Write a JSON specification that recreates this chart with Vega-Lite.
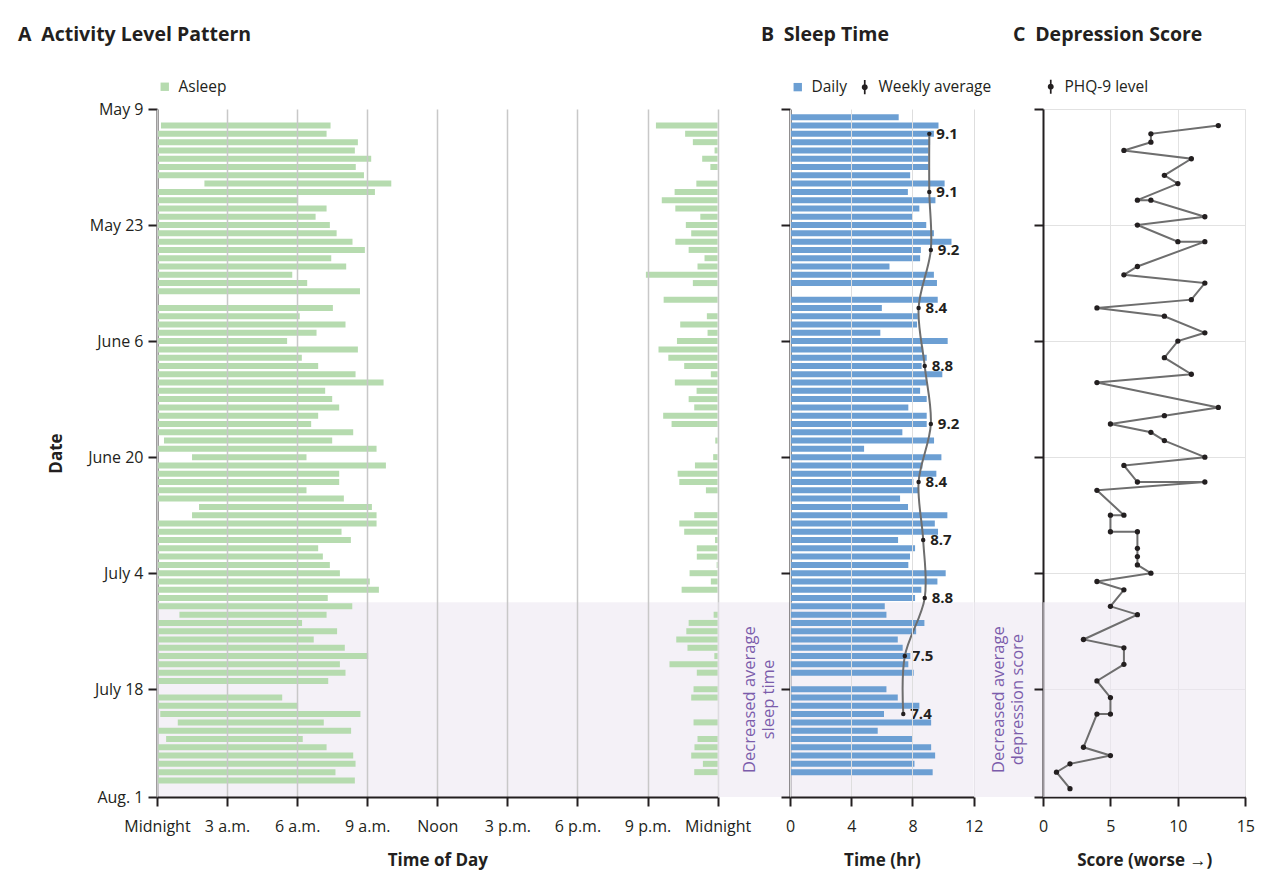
{
  "$schema": "https://vega.github.io/schema/vega-lite/v6.json",
  "background": "white",
  "padding": {"left": 18, "top": 24, "right": 10, "bottom": 10},
  "spacing": 0,
  "bounds": "flush",
  "config": {
    "font": "Open Sans",
    "view": {"stroke": null},
    "axis": {"labelFont": "Open Sans", "labelFontSize": 16, "labelColor": "#231f20", "titleFont": "Open Sans", "titleFontSize": 17, "titleFontWeight": "bold", "titleColor": "#231f20", "domainColor": "#231f20", "domainWidth": 2, "tickColor": "#231f20", "tickWidth": 2, "tickSize": 9, "labelFlush": false, "labelOverlap": false, "labelPadding": 12, "grid": false},
    "legend": {"labelFont": "Open Sans", "labelFontSize": 15.5, "labelColor": "#231f20", "orient": "top", "direction": "horizontal", "offset": 13, "labelOffset": 6, "columnPadding": 10, "symbolStrokeWidth": 0, "padding": 0},
    "title": {"font": "Open Sans", "fontSize": 19.5, "fontWeight": "bold", "color": "#231f20", "anchor": "start", "frame": "group", "offset": 34}
  },
  "datasets": {
    "period": [{"day": 59.5, "day_end": 83}],
    "asleep": [
      {"day": 2, "start": 0.17, "end": 7.43}, {"day": 2, "start": 21.36, "end": 24},
      {"day": 3, "start": 0, "end": 7.26}, {"day": 3, "start": 22.61, "end": 24},
      {"day": 4, "start": 0, "end": 8.6}, {"day": 4, "start": 22.94, "end": 24},
      {"day": 5, "start": 0, "end": 8.47}, {"day": 5, "start": 23.87, "end": 24},
      {"day": 6, "start": 0, "end": 9.17}, {"day": 6, "start": 23.34, "end": 24},
      {"day": 7, "start": 0, "end": 8.51}, {"day": 7, "start": 23.69, "end": 24},
      {"day": 8, "start": 0, "end": 8.86},
      {"day": 9, "start": 2.03, "end": 10.03}, {"day": 9, "start": 23.09, "end": 24},
      {"day": 10, "start": 0, "end": 9.33}, {"day": 10, "start": 22.16, "end": 24},
      {"day": 11, "start": 0, "end": 6.04}, {"day": 11, "start": 21.61, "end": 24},
      {"day": 12, "start": 0, "end": 7.26}, {"day": 12, "start": 22.19, "end": 24},
      {"day": 13, "start": 0, "end": 6.79}, {"day": 13, "start": 23.26, "end": 24},
      {"day": 14, "start": 0, "end": 7.4}, {"day": 14, "start": 22.64, "end": 24},
      {"day": 15, "start": 0, "end": 7.69}, {"day": 15, "start": 22.87, "end": 24},
      {"day": 16, "start": 0, "end": 8.37}, {"day": 16, "start": 22.19, "end": 24},
      {"day": 17, "start": 0, "end": 8.9}, {"day": 17, "start": 22.76, "end": 24},
      {"day": 18, "start": 0, "end": 7.46}, {"day": 18, "start": 23.44, "end": 24},
      {"day": 19, "start": 0, "end": 8.1}, {"day": 19, "start": 23.14, "end": 24},
      {"day": 20, "start": 0, "end": 5.79}, {"day": 20, "start": 20.93, "end": 24},
      {"day": 21, "start": 0, "end": 6.43}, {"day": 21, "start": 22.94, "end": 24},
      {"day": 22, "start": 0, "end": 8.69},
      {"day": 23, "start": 21.69, "end": 24},
      {"day": 24, "start": 0, "end": 7.53},
      {"day": 25, "start": 0, "end": 6.11}, {"day": 25, "start": 23.54, "end": 24},
      {"day": 26, "start": 0, "end": 8.07}, {"day": 26, "start": 22.4, "end": 24},
      {"day": 27, "start": 0, "end": 6.83}, {"day": 27, "start": 23.57, "end": 24},
      {"day": 28, "start": 0, "end": 5.57}, {"day": 28, "start": 22.26, "end": 24},
      {"day": 29, "start": 0, "end": 8.6}, {"day": 29, "start": 21.47, "end": 24},
      {"day": 30, "start": 0, "end": 6.2}, {"day": 30, "start": 21.89, "end": 24},
      {"day": 31, "start": 0, "end": 6.9}, {"day": 31, "start": 22.57, "end": 24},
      {"day": 32, "start": 0, "end": 8.5}, {"day": 32, "start": 23.71, "end": 24},
      {"day": 33, "start": 0, "end": 9.7}, {"day": 33, "start": 22.17, "end": 24},
      {"day": 34, "start": 0, "end": 7.2}, {"day": 34, "start": 23.1, "end": 24},
      {"day": 35, "start": 0, "end": 7.5}, {"day": 35, "start": 22.76, "end": 24},
      {"day": 36, "start": 0, "end": 7.8}, {"day": 36, "start": 23.0, "end": 24},
      {"day": 37, "start": 0, "end": 6.9}, {"day": 37, "start": 21.67, "end": 24},
      {"day": 38, "start": 0, "end": 6.6}, {"day": 38, "start": 22.03, "end": 24},
      {"day": 39, "start": 0, "end": 8.4},
      {"day": 40, "start": 0.3, "end": 7.5}, {"day": 40, "start": 23.9, "end": 24},
      {"day": 41, "start": 0, "end": 9.4},
      {"day": 42, "start": 1.5, "end": 6.4}, {"day": 42, "start": 23.81, "end": 24},
      {"day": 43, "start": 0, "end": 9.8}, {"day": 43, "start": 23.03, "end": 24},
      {"day": 44, "start": 0, "end": 7.8}, {"day": 44, "start": 22.29, "end": 24},
      {"day": 45, "start": 0, "end": 7.8}, {"day": 45, "start": 22.36, "end": 24},
      {"day": 46, "start": 0, "end": 6.4}, {"day": 46, "start": 23.5, "end": 24},
      {"day": 47, "start": 0, "end": 8.0},
      {"day": 48, "start": 1.8, "end": 9.2},
      {"day": 49, "start": 1.5, "end": 9.4}, {"day": 49, "start": 23.0, "end": 24},
      {"day": 50, "start": 0, "end": 9.4}, {"day": 50, "start": 22.36, "end": 24},
      {"day": 51, "start": 0, "end": 7.9}, {"day": 51, "start": 22.57, "end": 24},
      {"day": 52, "start": 0, "end": 8.3}, {"day": 52, "start": 23.89, "end": 24},
      {"day": 53, "start": 0, "end": 6.9}, {"day": 53, "start": 23.11, "end": 24},
      {"day": 54, "start": 0, "end": 7.1}, {"day": 54, "start": 23.11, "end": 24},
      {"day": 55, "start": 0, "end": 7.4}, {"day": 55, "start": 23.96, "end": 24},
      {"day": 56, "start": 0, "end": 7.83}, {"day": 56, "start": 22.8, "end": 24},
      {"day": 57, "start": 0, "end": 9.11}, {"day": 57, "start": 23.71, "end": 24},
      {"day": 58, "start": 0, "end": 9.5}, {"day": 58, "start": 22.46, "end": 24},
      {"day": 59, "start": 0, "end": 7.31},
      {"day": 60, "start": 0, "end": 8.36},
      {"day": 61, "start": 0.96, "end": 7.26}, {"day": 61, "start": 23.83, "end": 24},
      {"day": 62, "start": 0, "end": 6.21}, {"day": 62, "start": 22.76, "end": 24},
      {"day": 63, "start": 0, "end": 7.71}, {"day": 63, "start": 22.66, "end": 24},
      {"day": 64, "start": 0, "end": 6.71}, {"day": 64, "start": 22.23, "end": 24},
      {"day": 65, "start": 0, "end": 8.04}, {"day": 65, "start": 22.71, "end": 24},
      {"day": 66, "start": 0, "end": 9.04}, {"day": 66, "start": 23.86, "end": 24},
      {"day": 67, "start": 0, "end": 7.83}, {"day": 67, "start": 21.94, "end": 24},
      {"day": 68, "start": 0, "end": 8.07}, {"day": 68, "start": 23.11, "end": 24},
      {"day": 69, "start": 0, "end": 7.33},
      {"day": 70, "start": 22.97, "end": 24},
      {"day": 71, "start": 0, "end": 5.36}, {"day": 71, "start": 22.87, "end": 24},
      {"day": 72, "start": 0, "end": 6.04},
      {"day": 73, "start": 0.14, "end": 8.71},
      {"day": 74, "start": 0.89, "end": 7.14}, {"day": 74, "start": 22.97, "end": 24},
      {"day": 75, "start": 0, "end": 8.31},
      {"day": 76, "start": 0.39, "end": 6.24}, {"day": 76, "start": 23.14, "end": 24},
      {"day": 77, "start": 0, "end": 7.26}, {"day": 77, "start": 23.01, "end": 24},
      {"day": 78, "start": 0, "end": 8.4}, {"day": 78, "start": 22.87, "end": 24},
      {"day": 79, "start": 0, "end": 8.5}, {"day": 79, "start": 23.37, "end": 24},
      {"day": 80, "start": 0, "end": 7.64}, {"day": 80, "start": 23.0, "end": 24},
      {"day": 81, "start": 0, "end": 8.47}
    ],
    "sleep": [
      {"day": 1, "hours": 7.1}, {"day": 2, "hours": 9.7}, {"day": 3, "hours": 9.4}, {"day": 4, "hours": 9.15},
      {"day": 5, "hours": 9.05}, {"day": 6, "hours": 9.05}, {"day": 7, "hours": 9.05}, {"day": 8, "hours": 7.85},
      {"day": 9, "hours": 10.1}, {"day": 10, "hours": 7.7}, {"day": 11, "hours": 9.5}, {"day": 12, "hours": 8.45},
      {"day": 13, "hours": 8.0}, {"day": 14, "hours": 8.9}, {"day": 15, "hours": 9.4}, {"day": 16, "hours": 10.55},
      {"day": 17, "hours": 8.55}, {"day": 18, "hours": 8.5}, {"day": 19, "hours": 6.5}, {"day": 20, "hours": 9.4},
      {"day": 21, "hours": 9.6}, {"day": 23, "hours": 9.65}, {"day": 24, "hours": 6.0},
      {"day": 25, "hours": 8.35}, {"day": 26, "hours": 8.3}, {"day": 27, "hours": 5.9}, {"day": 28, "hours": 10.3},
      {"day": 29, "hours": 8.7}, {"day": 30, "hours": 8.93}, {"day": 31, "hours": 8.6}, {"day": 32, "hours": 9.95},
      {"day": 33, "hours": 8.93}, {"day": 34, "hours": 8.5}, {"day": 35, "hours": 8.93}, {"day": 36, "hours": 7.73},
      {"day": 37, "hours": 8.93}, {"day": 38, "hours": 8.93}, {"day": 39, "hours": 7.34}, {"day": 40, "hours": 9.41},
      {"day": 41, "hours": 4.84}, {"day": 42, "hours": 9.89}, {"day": 43, "hours": 8.65}, {"day": 44, "hours": 9.56},
      {"day": 45, "hours": 8.06}, {"day": 46, "hours": 8.37}, {"day": 47, "hours": 7.19}, {"day": 48, "hours": 7.71},
      {"day": 49, "hours": 10.28}, {"day": 50, "hours": 9.46}, {"day": 51, "hours": 9.67}, {"day": 52, "hours": 7.06},
      {"day": 53, "hours": 8.17}, {"day": 54, "hours": 7.84}, {"day": 55, "hours": 7.73}, {"day": 56, "hours": 10.17},
      {"day": 57, "hours": 9.63}, {"day": 58, "hours": 8.58}, {"day": 59, "hours": 8.17}, {"day": 60, "hours": 6.19},
      {"day": 61, "hours": 6.3}, {"day": 62, "hours": 8.78}, {"day": 63, "hours": 8.24}, {"day": 64, "hours": 7.04},
      {"day": 65, "hours": 7.36}, {"day": 66, "hours": 7.86}, {"day": 67, "hours": 7.73}, {"day": 68, "hours": 8.08},
      {"day": 70, "hours": 6.3}, {"day": 71, "hours": 7.04}, {"day": 72, "hours": 8.45},
      {"day": 73, "hours": 6.14}, {"day": 74, "hours": 9.22}, {"day": 75, "hours": 5.73}, {"day": 76, "hours": 8.02},
      {"day": 77, "hours": 9.22}, {"day": 78, "hours": 9.48}, {"day": 79, "hours": 8.13}, {"day": 80, "hours": 9.32}
    ],
    "weekly": [
      {"day": 3, "avg": 9.1}, {"day": 10, "avg": 9.1}, {"day": 17, "avg": 9.2}, {"day": 24, "avg": 8.4},
      {"day": 31, "avg": 8.8}, {"day": 38, "avg": 9.2}, {"day": 45, "avg": 8.4}, {"day": 52, "avg": 8.7},
      {"day": 59, "avg": 8.8}, {"day": 66, "avg": 7.5}, {"day": 73, "avg": 7.4}
    ],
    "phq": [
      {"order": 1, "day": 2, "score": 13}, {"order": 2, "day": 3, "score": 8}, {"order": 3, "day": 4, "score": 8},
      {"order": 4, "day": 5, "score": 6}, {"order": 5, "day": 6, "score": 11}, {"order": 6, "day": 8, "score": 9},
      {"order": 7, "day": 9, "score": 10}, {"order": 8, "day": 11, "score": 7}, {"order": 9, "day": 11, "score": 8},
      {"order": 10, "day": 13, "score": 12}, {"order": 11, "day": 14, "score": 7}, {"order": 12, "day": 16, "score": 10},
      {"order": 13, "day": 16, "score": 12}, {"order": 14, "day": 19, "score": 7}, {"order": 15, "day": 20, "score": 6},
      {"order": 16, "day": 21, "score": 12}, {"order": 17, "day": 23, "score": 11}, {"order": 18, "day": 24, "score": 4},
      {"order": 19, "day": 25, "score": 9}, {"order": 20, "day": 27, "score": 12}, {"order": 21, "day": 28, "score": 10},
      {"order": 22, "day": 30, "score": 9}, {"order": 23, "day": 32, "score": 11}, {"order": 24, "day": 33, "score": 4},
      {"order": 25, "day": 36, "score": 13}, {"order": 26, "day": 37, "score": 9}, {"order": 27, "day": 38, "score": 5},
      {"order": 28, "day": 39, "score": 8}, {"order": 29, "day": 40, "score": 9}, {"order": 30, "day": 42, "score": 12},
      {"order": 31, "day": 43, "score": 6}, {"order": 32, "day": 45, "score": 7}, {"order": 33, "day": 45, "score": 12},
      {"order": 34, "day": 46, "score": 4}, {"order": 35, "day": 49, "score": 6}, {"order": 36, "day": 49, "score": 5},
      {"order": 37, "day": 51, "score": 5}, {"order": 38, "day": 51, "score": 7}, {"order": 39, "day": 53, "score": 7},
      {"order": 40, "day": 54, "score": 7}, {"order": 41, "day": 55, "score": 7}, {"order": 42, "day": 56, "score": 8},
      {"order": 43, "day": 57, "score": 4}, {"order": 44, "day": 58, "score": 6}, {"order": 45, "day": 60, "score": 5},
      {"order": 46, "day": 61, "score": 7}, {"order": 47, "day": 64, "score": 3}, {"order": 48, "day": 65, "score": 6},
      {"order": 49, "day": 67, "score": 6}, {"order": 50, "day": 69, "score": 4}, {"order": 51, "day": 71, "score": 5},
      {"order": 52, "day": 73, "score": 5}, {"order": 53, "day": 73, "score": 4}, {"order": 54, "day": 77, "score": 3},
      {"order": 55, "day": 78, "score": 5}, {"order": 56, "day": 79, "score": 2}, {"order": 57, "day": 80, "score": 1},
      {"order": 58, "day": 82, "score": 2}
    ]
  },
  "resolve": {"scale": {"color": "independent", "x": "independent", "y": "independent"}, "legend": {"color": "independent"}},
  "hconcat": [
    {
      "width": 560.6, "height": 688,
      "title": {"text": "A\u2002Activity Level Pattern", "dx": -139},
      "encoding": {
        "y": {"field": "day", "type": "quantitative", "scale": {"domain": [0, 83], "reverse": true, "nice": false, "zero": false, "padding": 0},
              "axis": {"values": [0, 14, 28, 42, 56, 70, 83], "title": "Date", "titlePadding": 22, "labelPadding": 5,
                       "labelExpr": "datum.value == 0 ? 'May 9' : datum.value == 14 ? 'May 23' : datum.value == 28 ? 'June 6' : datum.value == 42 ? 'June 20' : datum.value == 56 ? 'July 4' : datum.value == 70 ? 'July 18' : 'Aug. 1'"}}
      },
      "layer": [
        {"data": {"name": "period"}, "mark": {"type": "rect", "color": "#ede7f2", "opacity": 0.6},
         "encoding": {"y2": {"field": "day_end"}, "x": {"value": 0}, "x2": {"value": "width"}}},
        {"data": {"name": "asleep"}, "mark": {"type": "bar", "orient": "horizontal", "size": 6},
         "encoding": {
           "x": {"field": "start", "type": "quantitative", "scale": {"domain": [0, 24], "nice": false},
                 "axis": {"values": [0, 3, 6, 9, 12, 15, 18, 21, 24], "grid": true, "gridColor": "#c8c8c8", "gridWidth": 1.5, "zindex": 1, "title": "Time of Day", "titlePadding": 18,
                          "labelExpr": "datum.value == 0 || datum.value == 24 ? 'Midnight' : datum.value == 12 ? 'Noon' : datum.value < 12 ? datum.value + ' a.m.' : (datum.value - 12) + ' p.m.'"}},
           "x2": {"field": "end"},
           "color": {"datum": "Asleep", "scale": {"domain": ["Asleep"], "range": ["#b6dbaf"]}, "legend": {"title": null, "symbolType": "square", "symbolSize": 70}}
         }}
      ]
    },
    {
      "width": 71.7, "height": 688,
      "encoding": {"y": {"field": "day", "type": "quantitative", "scale": {"domain": [0, 83], "reverse": true, "nice": false, "zero": false, "padding": 0}, "axis": null}},
      "layer": [
        {"data": {"name": "period"}, "mark": {"type": "rect", "color": "#ede7f2", "opacity": 0.6},
         "encoding": {"y2": {"field": "day_end"}, "x": {"value": 0}, "x2": {"value": "width"}}},
        {"data": {"name": "period"}, "mark": {"type": "text", "angle": 270, "align": "center", "baseline": "middle", "fontSize": 16.5, "lineHeight": 19, "color": "#7b5cab", "text": ["Decreased average", "sleep time"]},
         "encoding": {"y": {"datum": 71.25, "type": "quantitative"}, "x": {"datum": 0.44, "type": "quantitative", "scale": {"domain": [0, 1]}, "axis": null}}}
      ]
    },
    {
      "width": 183.7, "height": 688,
      "title": {"text": "B\u2002Sleep Time", "dx": -29},
      "encoding": {
        "y": {"field": "day", "type": "quantitative", "scale": {"domain": [0, 83], "reverse": true, "nice": false, "zero": false, "padding": 0},
              "axis": {"values": [0, 14, 28, 42, 56, 70, 83], "labels": false, "title": null}}
      },
      "layer": [
        {"data": {"name": "period"}, "mark": {"type": "rect", "color": "#ede7f2", "opacity": 0.6},
         "encoding": {"y2": {"field": "day_end"}, "x": {"value": 0}, "x2": {"value": "width"}}},
        {"data": {"name": "sleep"}, "mark": {"type": "bar", "orient": "horizontal", "size": 6},
         "encoding": {
           "x": {"field": "hours", "type": "quantitative", "stack": null, "scale": {"domain": [0, 12], "nice": false},
                 "axis": {"values": [0, 4, 8, 12], "grid": true, "gridColor": "#dedede", "gridWidth": 1, "zindex": 1, "title": "Time (hr)", "titlePadding": 18}},
           "color": {"datum": "Daily", "scale": {"domain": ["Daily", "Weekly average"], "range": ["#6c9fd3", "#231f20"]},
                     "legend": {"title": null, "columnPadding": 10,
                                "encode": {"symbols": {"update": {
                                  "shape": {"signal": "datum.value === 'Daily' ? 'square' : 'M-0.12,-1H0.12V1H-0.12Z M0.42,0A0.42,0.42,0,1,1,-0.42,0A0.42,0.42,0,1,1,0.42,0Z'"},
                                  "size": {"signal": "datum.value === 'Daily' ? 70 : 200"}}}}}}
         }},
        {"data": {"name": "weekly"}, "mark": {"type": "line", "color": "#6e6e6e", "strokeWidth": 2, "interpolate": "catmull-rom"},
         "encoding": {"x": {"field": "avg", "type": "quantitative"}, "order": {"field": "day"}}},
        {"data": {"name": "weekly"}, "mark": {"type": "circle", "size": 20, "opacity": 1},
         "encoding": {"x": {"field": "avg", "type": "quantitative"}, "color": {"datum": "Weekly average"}}},
        {"data": {"name": "weekly"}, "mark": {"type": "text", "align": "left", "baseline": "middle", "dx": 7, "fontWeight": "bold", "fontSize": 15, "color": "#231f20"},
         "encoding": {"x": {"field": "avg", "type": "quantitative"}, "text": {"field": "avg", "type": "quantitative", "format": ".1f"}}}
      ]
    },
    {
      "width": 69, "height": 688,
      "encoding": {"y": {"field": "day", "type": "quantitative", "scale": {"domain": [0, 83], "reverse": true, "nice": false, "zero": false, "padding": 0}, "axis": null}},
      "layer": [
        {"data": {"name": "period"}, "mark": {"type": "rect", "color": "#ede7f2", "opacity": 0.6},
         "encoding": {"y2": {"field": "day_end"}, "x": {"value": 0}, "x2": {"value": "width"}}},
        {"data": {"name": "period"}, "mark": {"type": "text", "angle": 270, "align": "center", "baseline": "middle", "fontSize": 16.5, "lineHeight": 19, "color": "#7b5cab", "text": ["Decreased average", "depression score"]},
         "encoding": {"y": {"datum": 71.25, "type": "quantitative"}, "x": {"datum": 0.36, "type": "quantitative", "scale": {"domain": [0, 1]}, "axis": null}}}
      ]
    },
    {
      "width": 202.3, "height": 688,
      "title": {"text": "C\u2002Depression Score", "dx": -30},
      "encoding": {
        "y": {"field": "day", "type": "quantitative", "scale": {"domain": [0, 83], "reverse": true, "nice": false, "zero": false, "padding": 0},
              "axis": {"values": [0, 14, 28, 42, 56, 70, 83], "labels": false, "title": null, "grid": true, "gridColor": "#e2e2e2", "gridWidth": 1}}
      },
      "layer": [
        {"data": {"name": "period"}, "mark": {"type": "rect", "color": "#ede7f2", "opacity": 0.6},
         "encoding": {"y2": {"field": "day_end"}, "x": {"value": 0}, "x2": {"value": "width"}}},
        {"data": {"name": "phq"}, "mark": {"type": "line", "color": "#6e6e6e", "strokeWidth": 2},
         "encoding": {"x": {"field": "score", "type": "quantitative", "scale": {"domain": [0, 15], "nice": false},
                            "axis": {"values": [0, 5, 10, 15], "grid": true, "gridColor": "#e2e2e2", "gridWidth": 1, "title": "Score (worse \u2192)", "titlePadding": 18}},
                      "order": {"field": "order"}}},
        {"data": {"name": "phq"}, "mark": {"type": "circle", "size": 28, "opacity": 1},
         "encoding": {"x": {"field": "score", "type": "quantitative"},
                      "color": {"datum": "PHQ-9 level", "scale": {"domain": ["PHQ-9 level"], "range": ["#231f20"]},
                                "legend": {"title": null, "symbolType": "M-0.12,-1H0.12V1H-0.12Z M0.42,0A0.42,0.42,0,1,1,-0.42,0A0.42,0.42,0,1,1,0.42,0Z", "symbolSize": 200}}}}
      ]
    }
  ]
}
